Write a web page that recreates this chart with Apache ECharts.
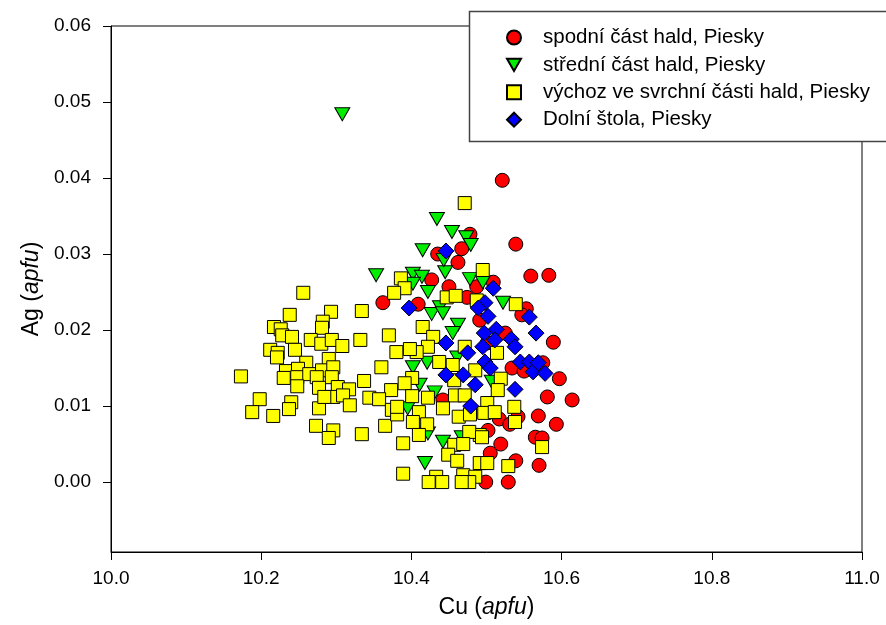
<!DOCTYPE html>
<html>
<head>
<meta charset="utf-8">
<script src="https://cdn.jsdelivr.net/npm/echarts@6/dist/echarts.min.js"></script>
<style>
  html, body { margin: 0; padding: 0; background: #fff; }
  #chart { width: 886px; height: 625px; }
</style>
</head>
<body>
<div id="chart"></div>
<script>
// Series labels
const seriesNames = [
  'spodní část hald, Piesky',
  'střední část hald, Piesky',
  'výchoz ve svrchní části hald, Piesky',
  'Dolní štola, Piesky'
];

// Tick values
const xTicks = [10.0, 10.2, 10.4, 10.6, 10.8, 11.0];
const yTicks = [0.00, 0.01, 0.02, 0.03, 0.04, 0.05, 0.06];

// [Cu, Ag] in apfu
const spodni = [
  [10.521, 0.0397], [10.539, 0.0313], [10.559, 0.0271], [10.583, 0.0272],
  [10.509, 0.0263], [10.553, 0.0228], [10.478, 0.0326], [10.467, 0.0307],
  [10.435, 0.0300], [10.462, 0.0289], [10.427, 0.0266], [10.487, 0.0257],
  [10.450, 0.0257], [10.474, 0.0243], [10.409, 0.0234], [10.362, 0.0236],
  [10.491, 0.0213], [10.547, 0.0220], [10.589, 0.0184], [10.597, 0.0136],
  [10.581, 0.0112], [10.614, 0.0108], [10.569, 0.0087], [10.593, 0.0076],
  [10.565, 0.0059], [10.574, 0.0058], [10.570, 0.0022], [10.539, 0.0028],
  [10.519, 0.0050], [10.505, 0.0038], [10.499, 0.0000], [10.529, 0.0000],
  [10.534, 0.0150], [10.550, 0.0146], [10.575, 0.0157], [10.525, 0.0196],
  [10.517, 0.0083], [10.531, 0.0076], [10.542, 0.0086], [10.502, 0.0068],
  [10.442, 0.0108], [10.501, 0.0183]
];

const stredni = [
  [10.308, 0.0484], [10.353, 0.0272], [10.434, 0.0346], [10.454, 0.0329],
  [10.473, 0.0322], [10.479, 0.0312], [10.415, 0.0305], [10.445, 0.0276],
  [10.402, 0.0274], [10.414, 0.0270], [10.402, 0.0261], [10.422, 0.0250],
  [10.478, 0.0267], [10.495, 0.0263], [10.522, 0.0236], [10.438, 0.0230],
  [10.427, 0.0221], [10.442, 0.0222], [10.462, 0.0207], [10.455, 0.0196],
  [10.461, 0.0164], [10.402, 0.0151], [10.421, 0.0157], [10.411, 0.0128],
  [10.431, 0.0118], [10.395, 0.0097], [10.422, 0.0064], [10.442, 0.0053],
  [10.467, 0.0059], [10.418, 0.0025], [10.507, 0.0132], [10.443, 0.0292]
];

const vychoz = [
  [10.256, 0.0249], [10.238, 0.0220], [10.293, 0.0224], [10.334, 0.0225],
  [10.217, 0.0204], [10.226, 0.0201], [10.228, 0.0193], [10.282, 0.0211],
  [10.281, 0.0203], [10.241, 0.0191], [10.266, 0.0187], [10.280, 0.0182],
  [10.294, 0.0187], [10.308, 0.0179], [10.332, 0.0187], [10.370, 0.0193],
  [10.212, 0.0174], [10.222, 0.0170], [10.221, 0.0164], [10.245, 0.0174],
  [10.290, 0.0162], [10.260, 0.0157], [10.173, 0.0139], [10.233, 0.0146],
  [10.249, 0.0149], [10.230, 0.0137], [10.248, 0.0138], [10.264, 0.0142],
  [10.281, 0.0147], [10.296, 0.0151], [10.294, 0.0138], [10.274, 0.0138],
  [10.248, 0.0126], [10.277, 0.0124], [10.302, 0.0125], [10.317, 0.0122],
  [10.337, 0.0133], [10.360, 0.0151], [10.373, 0.0121], [10.344, 0.0111],
  [10.357, 0.0109], [10.380, 0.0171], [10.198, 0.0109], [10.188, 0.0092],
  [10.216, 0.0087], [10.240, 0.0105], [10.237, 0.0096], [10.277, 0.0097],
  [10.296, 0.0112], [10.284, 0.0112], [10.309, 0.0114], [10.318, 0.0101],
  [10.273, 0.0074], [10.296, 0.0068], [10.290, 0.0058], [10.334, 0.0063],
  [10.365, 0.0074], [10.374, 0.0095], [10.381, 0.0089],
  [10.471, 0.0367], [10.495, 0.0279], [10.386, 0.0268], [10.391, 0.0255],
  [10.377, 0.0249], [10.447, 0.0243], [10.459, 0.0245], [10.487, 0.0239],
  [10.415, 0.0204], [10.429, 0.0191], [10.422, 0.0178], [10.407, 0.0171],
  [10.398, 0.0175], [10.471, 0.0178], [10.514, 0.0170], [10.437, 0.0158],
  [10.455, 0.0154], [10.485, 0.0147], [10.401, 0.0137], [10.391, 0.0130],
  [10.519, 0.0136], [10.457, 0.0134], [10.401, 0.0113], [10.422, 0.0111],
  [10.458, 0.0114], [10.471, 0.0114], [10.515, 0.0121], [10.381, 0.0099],
  [10.410, 0.0092], [10.442, 0.0097], [10.463, 0.0086], [10.478, 0.0089],
  [10.501, 0.0104], [10.497, 0.0091], [10.511, 0.0092], [10.402, 0.0079],
  [10.421, 0.0076], [10.410, 0.0062], [10.491, 0.0062], [10.477, 0.0066],
  [10.457, 0.0049], [10.469, 0.0050], [10.389, 0.0051], [10.449, 0.0036],
  [10.461, 0.0028], [10.491, 0.0025], [10.501, 0.0025], [10.389, 0.0011],
  [10.433, 0.0007], [10.423, 0.0000], [10.441, 0.0000], [10.469, 0.0009],
  [10.485, 0.0007], [10.477, 0.0000], [10.467, 0.0000], [10.539, 0.0234],
  [10.537, 0.0099], [10.538, 0.0079], [10.574, 0.0046], [10.529, 0.0021],
  [10.494, 0.0059]
];

const stola = [
  [10.446, 0.0304], [10.509, 0.0255], [10.498, 0.0236], [10.397, 0.0229],
  [10.489, 0.0229], [10.502, 0.0218], [10.557, 0.0217], [10.566, 0.0196],
  [10.513, 0.0201], [10.497, 0.0196], [10.511, 0.0187], [10.533, 0.0188],
  [10.538, 0.0178], [10.446, 0.0183], [10.475, 0.0170], [10.498, 0.0158],
  [10.505, 0.0150], [10.545, 0.0158], [10.557, 0.0158], [10.562, 0.0145],
  [10.569, 0.0157], [10.578, 0.0143], [10.446, 0.0141], [10.469, 0.0141],
  [10.485, 0.0128], [10.538, 0.0122], [10.479, 0.0100], [10.495, 0.0178]
];

const FONT = 'Liberation Sans';
const INK = '#000';
// Downward-pointing triangle for the legend key of the second group
const DOWN_TRIANGLE = 'path://M0,0L16,0L8,14Z';

const chart = echarts.init(document.getElementById('chart'), null, { renderer: 'canvas' });

function scatter(name, data, symbol, size, color, extra) {
  return Object.assign({
    name: name,
    type: 'scatter',
    data: data,
    symbol: symbol,
    symbolSize: size,
    itemStyle: { color: color, borderColor: '#000', borderWidth: 1, opacity: 1 },
    emphasis: { disabled: true },
    z: 3
  }, extra || {});
}

chart.setOption({
  animation: false,
  backgroundColor: '#fff',
  textStyle: { fontFamily: FONT },
  grid: {
    left: 111, right: 24, top: 26, bottom: 73,
    show: true, borderColor: INK, borderWidth: 1, backgroundColor: 'transparent'
  },
  xAxis: {
    type: 'value',
    min: xTicks[0], max: xTicks[xTicks.length - 1], interval: 0.2,
    name: 'Cu ({i|apfu})',
    nameLocation: 'middle',
    nameGap: 44,
    nameTextStyle: {
      fontFamily: FONT, fontSize: 23, color: INK,
      rich: { i: { fontFamily: FONT, fontSize: 23, fontStyle: 'italic', color: INK } }
    },
    axisLine: { show: true, onZero: false, lineStyle: { color: INK, width: 1 } },
    axisTick: { show: true, inside: false, length: 8, lineStyle: { color: INK, width: 1 } },
    axisLabel: {
      margin: 17, fontFamily: FONT, fontSize: 19, color: INK,
      formatter: v => v.toFixed(1)
    },
    splitLine: { show: false }
  },
  yAxis: {
    type: 'value',
    min: -0.0092, max: yTicks[yTicks.length - 1],
    name: 'Ag ({i|apfu})',
    nameLocation: 'middle',
    nameRotate: 90,
    nameGap: 66,
    nameTextStyle: {
      fontFamily: FONT, fontSize: 23, color: INK,
      rich: { i: { fontFamily: FONT, fontSize: 23, fontStyle: 'italic', color: INK } }
    },
    axisLine: { show: true, onZero: false, lineStyle: { color: INK, width: 1 } },
    axisTick: { show: true, inside: false, length: 8, customValues: yTicks, lineStyle: { color: INK, width: 1 } },
    axisLabel: {
      margin: 20, fontFamily: FONT, fontSize: 19, color: INK,
      customValues: yTicks,
      formatter: v => v.toFixed(2)
    },
    splitLine: { show: false }
  },
  legend: {
    orient: 'vertical',
    left: 501, top: 22,
    itemWidth: 14, itemHeight: 14, itemGap: 6.4,
    symbolKeepAspect: true,
    selectedMode: false,
    textStyle: { fontFamily: FONT, fontSize: 20.5, color: INK, lineHeight: 20, padding: [0, 0, 0, 17] },
    z: 20,
    data: [
      { name: seriesNames[0] },
      { name: seriesNames[1], icon: DOWN_TRIANGLE },
      { name: seriesNames[2] },
      { name: seriesNames[3] }
    ]
  },
  graphic: [{
    type: 'rect',
    shape: { x: 469.5, y: 11.5, width: 440, height: 130 },
    style: { fill: '#fff', stroke: '#444', lineWidth: 1.5 },
    z: 10
  }],
  series: [
    scatter(seriesNames[0], spodni, 'circle', 14, '#ff0000'),
    scatter(seriesNames[1], stredni, 'triangle', [15, 13], '#00ee00', { symbolRotate: 180 }),
    scatter(seriesNames[2], vychoz, 'rect', 13, '#ffff00'),
    scatter(seriesNames[3], stola, 'diamond', [16, 16], '#0000ff')
  ]
});
</script>
</body>
</html>
